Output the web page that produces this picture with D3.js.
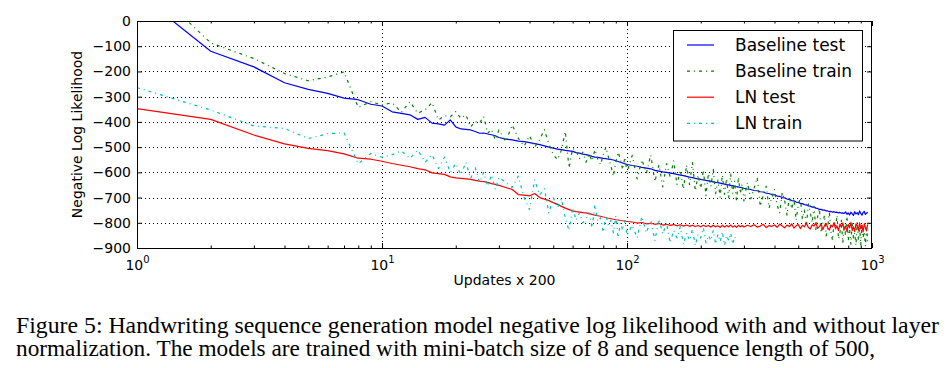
<!DOCTYPE html>
<html><head><meta charset="utf-8">
<script src="https://cdn.jsdelivr.net/npm/d3@7"></script>
<style>body{margin:0;background:#fff;} svg{display:block;}</style>
</head><body>
<svg id="chart" width="948" height="368"></svg>
<script>
// ---- data ----
const updates = [1,2,3,4,5,6,7,8,9,10,11,12,13,14,15,16,17,18,19,20,21,22,23,24,25,26,27,28,29,30,
32,34,36,38,40,42,44,46,48,50,52,54,56,58,60,62,64,66,68,70,72,74,76,78,80,82,84,86,88,90,92,94,96,98,100,
105,110,115,120,125,130,135,140,145,150,155,160,165,170,175,180,185,190,195,200,
205,210,215,220,225,230,235,240,245,250,255,260,265,270,275,280,285,290,295,300,
310,320,330,340,350,360,370,380,390,400,410,420,430,440,450,460,470,480,490,500,
510,520,530,540,550,560,570,580,590,600,610,620,630,640,650,660,670,680,690,700,
710,720,730,740,750,760,770,780,790,800,810,820,830,840,850,860,870,880,890,900,
910,920,930,940,950,960];

const baselineTest = [113,-120,-182,-245,-271,-287,-306,-312,-330,-337,-360,-366,-372,-390,-382,-405,-408,-413,-392,-420,-428,-430,-432,-438,-445,-444,-448,-451,-455,-462,
-468,-471,-476,-478,-482,-486,-490,-495,-500,-504,-508,-510,-513,-515,-517,-522,-524,-528,-530,-533,-537,-540,-541,-543,-545,-546,-548,-549,-551,-554,-557,-560,-563,-566,-569,
-573,-576,-580,-583,-586,-592,-595,-598,-600,-603,-605,-608,-611,-613,-616,-619,-621,-624,-626,-628,
-630,-632,-634,-636,-638,-640,-641,-643,-645,-647,-649,-650,-652,-653,-655,-657,-658,-660,-661,-663,
-666,-668,-672,-673,-677,-678,-683,-684,-688,-689,-694,-695,-700,-701,-706,-707,-712,-713,-718,-719,
-723,-724,-728,-729,-733,-734,-738,-738,-742,-743,-747,-747,-750,-750,-753,-753,-756,-755,-758,-756,
-759,-758,-761,-759,-762,-761,-763,-757,-766,-761,-769,-758,-764,-771,-756,-765,-760,-768,-753,-763,
-770,-759,-755,-767,-762,-758];

const baselineTrain = [190,-87,-149,-208,-237,-222,-202,-343,-320,-333,-324,-362,-320,-366,-352,-324,-392,-375,-380,-359,-386,-372,-420,-398,-405,-379,-445,-430,-471,-432,
-478,-412,-465,-497,-455,-500,-470,-431,-488,-530,-550,-512,-438,-583,-505,-515,-545,-520,-560,-528,-555,-510,-548,-570,-530,-500,-540,-575,-616,-560,-520,-548,-590,-540,-600,
-533,-626,-550,-603,-531,-637,-570,-658,-565,-618,-555,-648,-591,-668,-571,-649,-561,-674,-611,-663,
-590,-692,-604,-656,-588,-685,-631,-698,-610,-687,-624,-700,-607,-683,-635,-717,-618,-685,-646,-713,
-640,-705,-665,-620,-735,-690,-655,-742,-700,-668,-730,-760,-680,-712,-770,-695,-745,-705,-790,-730,
-700,-785,-750,-812,-725,-760,-800,-735,-826,-775,-745,-840,-800,-770,-852,-815,-760,-835,-870,-795,
-820,-770,-865,-840,-790,-880,-810,-850,-775,-872,-825,-885,-800,-860,-840,-890,-795,-870,-815,-888,
-805,-860,-835,-893,-812,-878];

const lnTest = [-347,-390,-452,-487,-505,-514,-527,-544,-548,-556,-565,-572,-578,-585,-590,-602,-605,-608,-618,-622,-624,-626,-628,-632,-635,-637,-640,-645,-648,-652,
-660,-668,-688,-690,-693,-684,-700,-706,-712,-720,-727,-735,-742,-748,-753,-756,-758,-760,-761,-764,-767,-770,-772,-774,-777,-779,-782,-784,-786,-788,-789,-791,-792,-793,-795,
-797,-801,-799,-804,-802,-806,-803,-809,-806,-810,-807,-812,-808,-813,-809,-814,-810,-815,-811,-816,
-810,-815,-811,-817,-810,-816,-812,-818,-810,-817,-811,-816,-809,-817,-812,-818,-810,-816,-811,-817,
-810,-815,-808,-817,-813,-806,-819,-811,-814,-809,-818,-805,-813,-820,-809,-815,-804,-821,-812,-807,
-823,-810,-816,-802,-819,-825,-808,-813,-800,-822,-815,-806,-827,-811,-803,-820,-829,-809,-816,-799,
-824,-812,-831,-805,-818,-801,-826,-814,-833,-807,-820,-798,-829,-816,-835,-804,-811,-830,-800,-824,
-809,-836,-803,-819,-832,-806];

const lnTrain = [-264,-353,-416,-426,-466,-447,-443,-566,-525,-540,-530,-515,-545,-512,-560,-530,-585,-540,-600,-565,-610,-560,-625,-580,-640,-600,-655,-610,-668,-620,
-640,-660,-615,-700,-747,-630,-690,-665,-761,-700,-740,-705,-780,-832,-740,-790,-760,-800,-786,-760,-820,-728,-795,-780,-838,-770,-810,-790,-840,-775,-860,-800,-830,-790,-850,
-810,-860,-775,-840,-790,-870,-785,-845,-800,-880,-830,-860,-815,-885,-840,-870,-825,-890,-845,-860,
-820,-880,-850,-870,-830,-885,-845,-875,-835,-890,-850,-870,-840,-885,-855,-875];

const seriesNames = ["Baseline test","Baseline train","LN test","LN train"];
const seriesColors = ["#0000ff","#008000","#ff0000","#00bfbf"];
const seriesDash = [null,"3,4,1,4",null,"3,4,1,4"];
const seriesValues = [baselineTest, baselineTrain, lnTest, lnTrain];

const yTicks = [0,-100,-200,-300,-400,-500,-600,-700,-800,-900];
const xMajorTicks = [1,10,100,1000];
const xMajorExp = ["0","1","2","3"];
const xMinorTicks = [2,3,4,5,6,7,8,9,20,30,40,50,60,70,80,90,200,300,400,500,600,700,800,900];
const xLabel = "Updates x 200";
const yLabel = "Negative Log Likelihood";
const caption1 = "Figure 5: Handwriting sequence generation model negative log likelihood with and without layer";
const caption2 = "normalization. The models are trained with mini-batch size of 8 and sequence length of 500,";

// ---- layout ----
const L = 137, R = 872, T = 21, B = 248;
const svg = d3.select("#chart");
const font = "DejaVu Sans, sans-serif";

const x = d3.scaleLog().domain([1,1000]).range([L,R]);
const y = d3.scaleLinear().domain([-900,0]).range([B,T]);

svg.append("rect").attr("width",948).attr("height",368).attr("fill","#fff");

svg.append("defs").append("clipPath").attr("id","clip")
  .append("rect").attr("x",L).attr("y",T).attr("width",R-L).attr("height",B-T);

// grid
const grid = svg.append("g").attr("stroke","#000").attr("stroke-width",1)
  .attr("stroke-dasharray","1,3").attr("shape-rendering","crispEdges");
grid.selectAll("line.gx").data(xMajorTicks.slice(1,3)).join("line")
  .attr("x1",d=>Math.round(x(d))+0.5).attr("x2",d=>Math.round(x(d))+0.5).attr("y1",T).attr("y2",B);
grid.selectAll("line.gy").data(yTicks.slice(1,9)).join("line")
  .attr("y1",d=>Math.round(y(d))+0.5).attr("y2",d=>Math.round(y(d))+0.5).attr("x1",L).attr("x2",R);

// series
const line = d3.line().x((d,i)=>x(updates[i])).y(d=>y(d));
const plot = svg.append("g").attr("clip-path","url(#clip)");
seriesValues.forEach((vals,k)=>{
  plot.append("path").datum(vals)
    .attr("d", line)
    .attr("fill","none")
    .attr("stroke",seriesColors[k])
    .attr("stroke-width",1.2)
    .attr("stroke-linejoin","round")
    .attr("stroke-dasharray",seriesDash[k]);
});

// axes
function styleAxis(g){
  g.select(".domain").remove();
  g.selectAll(".tick line").attr("stroke","#000").attr("stroke-width",1);
  g.selectAll("text").attr("font-family",font).attr("font-size",14).attr("fill","#000");
}
svg.append("g").attr("transform",`translate(${L},0)`)
  .call(d3.axisLeft(y).tickValues(yTicks).tickSize(-5).tickPadding(6))
  .call(styleAxis);
svg.append("g").attr("transform",`translate(${R},0)`)
  .call(d3.axisRight(y).tickValues(yTicks).tickSize(-5).tickFormat(""))
  .call(styleAxis);
const bx = svg.append("g").attr("transform",`translate(0,${B})`)
  .call(d3.axisBottom(x).tickValues(xMajorTicks).tickSize(-5).tickFormat(""))
  .call(styleAxis);
bx.selectAll(".tick text").each(function(d,i){
  const t = d3.select(this).attr("y",22).attr("dy",0).attr("text-anchor","middle");
  t.append("tspan").text("10");
  t.append("tspan").attr("dy",-7).attr("font-size",10).text(xMajorExp[i]);
});
svg.append("g").attr("transform",`translate(0,${B})`)
  .call(d3.axisBottom(x).tickValues(xMinorTicks).tickSize(-2.5).tickFormat(""))
  .call(styleAxis);
svg.append("g").attr("transform",`translate(0,${T})`)
  .call(d3.axisTop(x).tickValues(xMajorTicks).tickSize(-5).tickFormat(""))
  .call(styleAxis);
svg.append("g").attr("transform",`translate(0,${T})`)
  .call(d3.axisTop(x).tickValues(xMinorTicks).tickSize(-2.5).tickFormat(""))
  .call(styleAxis);

// frame
svg.append("rect").attr("x",L+0.5).attr("y",T+0.5).attr("width",R-L-1).attr("height",B-T)
  .attr("fill","none").attr("stroke","#000").attr("stroke-width",1);

// axis labels
svg.append("text").attr("x",(L+R)/2).attr("y",285).attr("text-anchor","middle")
  .attr("font-family",font).attr("font-size",14).text(xLabel);
svg.append("text").attr("transform",`translate(82,${(T+B)/2}) rotate(-90)`).attr("text-anchor","middle")
  .attr("font-family",font).attr("font-size",14).text(yLabel);

// legend
const lg = svg.append("g");
lg.append("rect").attr("x",673.5).attr("y",30.5).attr("width",189).attr("height",110.5)
  .attr("fill","#fff").attr("stroke","#000").attr("stroke-width",1);
seriesNames.forEach((name,k)=>{
  const cy = 45 + k*26.1;
  lg.append("line").attr("x1",687).attr("x2",714).attr("y1",cy).attr("y2",cy)
    .attr("stroke",seriesColors[k]).attr("stroke-width",1.2).attr("stroke-dasharray",seriesDash[k]);
  lg.append("text").attr("x",735).attr("y",cy+6).attr("font-family",font).attr("font-size",17)
    .attr("fill","#000").text(name);
});

// caption
svg.append("text").attr("x",16).attr("y",333).attr("font-family","Liberation Serif, serif")
  .attr("font-size",23).attr("textLength",923).attr("lengthAdjust","spacingAndGlyphs").text(caption1);
svg.append("text").attr("x",16).attr("y",356).attr("font-family","Liberation Serif, serif")
  .attr("font-size",23).attr("textLength",859).attr("lengthAdjust","spacingAndGlyphs").text(caption2);
</script>
</body></html>
